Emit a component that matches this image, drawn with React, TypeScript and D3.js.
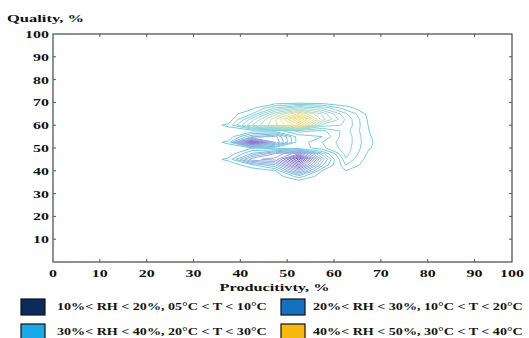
import * as d3 from 'd3';

// axis ticks
const xTicks = [0, 10, 20, 30, 40, 50, 60, 70, 80, 90, 100];
const yTicks = [10, 20, 30, 40, 50, 60, 70, 80, 90, 100];

// sampled surface: columns from x=32.5 every 5, rows from y=70 (top) every 2.5
const gridX0 = 32.5;
const gridDx = 5;
const gridY0 = 70;
const gridDy = 2.5;
const qualityGrid = [
  [0, 0, 0, 0, 0, 0, 0, 0, 0],
  [0, 0, 0.03, 0.2, 0.35, 0.25, 0.08, 0, 0],
  [0, 0, 0.12, 0.45, 0.7, 0.45, 0.2, 0.02, 0],
  [0, 0, 0.3, 0.6, 1.0, 0.5, 0.25, 0.03, 0],
  [0, 0.07, 0.4, 0.6, 0.8, 0.3, 0.25, 0.04, 0],
  [0, 0, 0, 0, 0.15, 0.1, 0.22, 0.05, 0],
  [0, 0, -0.25, -0.35, 0, 0.05, 0.24, 0.055, 0],
  [0, -0.07, -0.9, -0.4, 0, 0.12, 0.24, 0.06, 0],
  [0, 0, -0.05, 0, 0, 0.1, 0.23, 0.055, 0],
  [0, 0, -0.2, -0.4, -0.6, -0.15, 0.22, 0.03, 0],
  [0, -0.07, -0.45, -0.5, -1.0, -0.3, 0.18, 0.01, 0],
  [0, 0, -0.1, -0.25, -0.75, -0.2, 0.12, 0, 0],
  [0, 0, 0, -0.05, -0.45, -0.05, 0.05, 0, 0],
  [0, 0, 0, 0, -0.15, 0, 0.02, 0, 0],
  [0, 0, 0, 0, 0, 0, 0, 0, 0],
];
const contourLevels = [0.05, 0.12, 0.19, 0.26, 0.33, 0.4, 0.47, 0.54, 0.61, 0.68, 0.75, 0.82, 0.89, 0.96];

const legendLabels = [
  '10%< RH < 20%, 05°C < T < 10°C',
  '20%< RH < 30%, 10°C < T < 20°C',
  '30%< RH < 40%, 20°C < T < 30°C',
  '40%< RH < 50%, 30°C < T < 40°C',
];
const legendColors = ['#0b2a5e', '#1471c2', '#19a9e8', '#f8b90e'];

const FONT = '"Liberation Serif", "Times New Roman", serif';

export default function App() {
  const width = 529;
  const height = 338;
  const margin = { top: 34, right: 17, bottom: 76, left: 53 };

  const x = d3.scaleLinear().domain([0, 98]).range([margin.left, width - margin.right]);
  const y = d3.scaleLinear().domain([0, 100]).range([height - margin.bottom, margin.top]);

  const nRows = qualityGrid.length;
  const nCols = qualityGrid[0].length;
  const flat = qualityGrid.flat();
  const gen = d3.contours().size([nCols, nRows]).thresholds(contourLevels);
  const peaks = gen(flat);
  const pits = gen(flat.map((v) => -v));

  const proj = d3.geoTransform({
    point(px: number, py: number) {
      this.stream.point(
        x(gridX0 + (px - 0.5) * gridDx),
        y(gridY0 - (py - 0.5) * gridDy)
      );
    },
  });
  const path = d3.geoPath(proj);

  const peakColor = d3.scaleLinear<string>()
    .domain([0.05, 0.4, 0.7, 0.96])
    .range(['#74cbe1', '#a8dccc', '#e8e08a', '#f6dc62']);
  const pitColor = d3.scaleLinear<string>()
    .domain([0.05, 0.5, 0.96])
    .range(['#74cbe1', '#9ea3df', '#7a5fbd']);

  const x0 = x.range()[0];
  const x1 = x.range()[1];
  const y0 = y.range()[0];
  const y1 = y.range()[1];
  const tick = 3;
  const axisColor = '#555';

  const sx = (tx: number, ty: number, k = 1.45) => `translate(${tx},${ty}) scale(${k},1)`;

  return (
    <svg
      width={width}
      height={height}
      style={{ position: 'absolute', left: 0, top: 0, background: '#fff' }}
      fontFamily={FONT}
      fontWeight="bold"
    >
      {/* contours */}
      <g fill="none" strokeWidth={1} strokeLinejoin="miter">
        {peaks.map((c, i) => (
          <path key={'p' + i} d={path(c) || ''} stroke={peakColor(c.value)} />
        ))}
        {pits.map((c, i) => (
          <path key={'n' + i} d={path(c) || ''} stroke={pitColor(c.value)} />
        ))}
      </g>

      {/* frame */}
      <rect x={x0} y={y1} width={x1 - x0} height={y0 - y1} fill="none" stroke={axisColor} strokeWidth={1.3} />

      {/* x ticks */}
      {xTicks.map((v) => {
        const px = x(Math.min(v, x.domain()[1]));
        return (
          <g key={'xt' + v}>
            {v > 0 && v < 100 && (
              <>
                <line x1={px} x2={px} y1={y0} y2={y0 - tick} stroke={axisColor} />
                <line x1={px} x2={px} y1={y1} y2={y1 + tick} stroke={axisColor} />
              </>
            )}
            <text transform={sx(px, y0 + 15)} textAnchor="middle" fontSize={11} fill="#111">
              {v}
            </text>
          </g>
        );
      })}

      {/* y ticks */}
      {yTicks.map((v) => {
        const py = y(v);
        return (
          <g key={'yt' + v}>
            {v < 100 && (
              <>
                <line x1={x0} x2={x0 + tick} y1={py} y2={py} stroke={axisColor} />
                <line x1={x1} x2={x1 - tick} y1={py} y2={py} stroke={axisColor} />
              </>
            )}
            <text transform={sx(x0 - 4, py + 4)} textAnchor="end" fontSize={11} fill="#111">
              {v}
            </text>
          </g>
        );
      })}

      {/* axis titles */}
      <text transform={sx(7, 22, 1.5)} fontSize={11} fill="#111">
        Quality, %
      </text>
      <text transform={sx((x0 + x1) / 2 - 8, y0 + 29, 1.48)} textAnchor="middle" fontSize={11} fill="#111">
        Producitivty, %
      </text>

      {/* legend */}
      {legendLabels.map((label, i) => {
        const col = i % 2;
        const row = Math.floor(i / 2);
        const lx = 21 + col * 260;
        const ly = 299 + row * 25;
        return (
          <g key={label}>
            <rect x={lx} y={ly} width={24} height={16} fill={legendColors[i]} stroke="#111" strokeWidth={1.2} />
            <text transform={sx(lx + 36 - col * 4, ly + 11, 1.28)} fontSize={11} fill="#111">
              {label}
            </text>
          </g>
        );
      })}
    </svg>
  );
}
